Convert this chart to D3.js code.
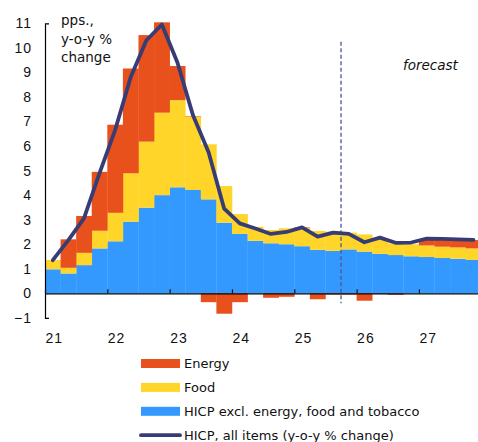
<!DOCTYPE html>
<html>
<head>
<meta charset="utf-8">
<script src="https://cdn.jsdelivr.net/npm/d3@7"></script>
<style>
  body { margin: 0; background: #fff; }
  svg { display: block; font-family: "DejaVu Sans", sans-serif; }
</style>
</head>
<body>
<div id="chart1"></div>
<script>
"use strict";

// == DEFINE DATA ==
var quarters = [
  "21Q1","21Q2","21Q3","21Q4","22Q1","22Q2","22Q3","22Q4",
  "23Q1","23Q2","23Q3","23Q4","24Q1","24Q2","24Q3","24Q4",
  "25Q1","25Q2","25Q3","25Q4","26Q1","26Q2","26Q3","26Q4",
  "27Q1","27Q2","27Q3","27Q4"
];
var core = [0.98, 0.81, 1.15, 1.83, 2.12, 2.92, 3.49, 4.00, 4.32, 4.21, 3.83, 2.88, 2.42, 2.14,
            2.04, 2.00, 1.92, 1.77, 1.73, 1.79, 1.70, 1.61, 1.56, 1.51, 1.48, 1.44, 1.41, 1.36];
var food = [0.38, 0.23, 0.50, 0.72, 1.16, 1.97, 2.69, 3.36, 3.55, 2.99, 2.24, 1.49, 0.81, 0.57,
            0.54, 0.65, 0.75, 0.77, 0.78, 0.68, 0.70, 0.64, 0.48, 0.49, 0.47, 0.46, 0.46, 0.47];
var energy = [0.00, 1.16, 1.50, 2.40, 3.59, 4.27, 4.34, 3.68, 1.39, 0.02, -0.36, -0.83, -0.36, 0.00,
              -0.18, -0.14, 0.02, -0.24, -0.05, -0.05, -0.30, -0.03, -0.06, 0.00, 0.25, 0.28, 0.28, 0.34];
var hicp = [1.35, 2.17, 3.05, 4.90, 6.65, 8.80, 10.30, 10.95, 9.40, 7.25, 5.75, 3.45, 2.85, 2.64,
            2.42, 2.50, 2.69, 2.31, 2.47, 2.42, 2.08, 2.27, 2.06, 2.07, 2.23, 2.22, 2.20, 2.18];
var years = [2021, 2022, 2023, 2024, 2025, 2026, 2027];
var yTicks = [-1, 0, 1, 2, 3, 4, 5, 6, 7, 8, 9, 10, 11];
var keys = ["core", "food", "energy"];
var colors = { core: "#3399ff", food: "#ffd52a", energy: "#e8511c" };
var lineColor = "#373d74";

// == BOILERPLATE ==
var width = 478, height = 442;
var left = 45, qw = 15.58;

var svg = d3.select("#chart1")
  .append("svg")
  .attr("width", width)
  .attr("height", height);

var x = d3.scaleBand()
  .domain(quarters)
  .range([left, left + quarters.length * qw])
  .padding(0);

var xYear = d3.scaleLinear()
  .domain([2021, 2028])
  .range([left, left + quarters.length * qw]);

var y = d3.scaleLinear()
  .domain([-1, 11])
  .range([317.9, 23.3]);

var rows = quarters.map(function (q, i) {
  return { q: q, core: core[i], food: food[i], energy: energy[i] };
});

var series = d3.stack()
  .keys(keys)
  .offset(d3.stackOffsetDiverging)(rows);

// == BARS ==
svg.append("g")
  .selectAll("g")
  .data(series)
  .enter()
  .append("g")
  .attr("fill", function (s) { return colors[s.key]; })
  .selectAll("rect")
  .data(function (s) { return s; })
  .enter()
  .append("rect")
  .attr("x", function (d) { return x(d.data.q); })
  .attr("width", x.bandwidth() + 0.3)
  .attr("y", function (d) { return y(Math.max(d[0], d[1])); })
  .attr("height", function (d) { return Math.abs(y(d[0]) - y(d[1])); });

// == AXES ==
var yAxis = d3.axisLeft(y)
  .tickValues(yTicks)
  .tickSizeInner(0)
  .tickSizeOuter(-4)
  .tickPadding(13);

svg.append("g")
  .attr("transform", "translate(" + left + ",0)")
  .call(yAxis)
  .call(function (g) {
    g.select(".domain").attr("stroke", "#000").attr("stroke-width", 1.2);
    g.selectAll("text")
      .attr("font-size", 14)
      .attr("letter-spacing", 1)
      .attr("fill", "#111");
  });

var xAxis = d3.axisBottom(xYear)
  .tickValues(years)
  .tickSizeInner(-4)
  .tickSizeOuter(0)
  .tickPadding(40)
  .tickFormat(function (d) { return String(d).slice(2); });

svg.append("g")
  .attr("transform", "translate(0," + y(0) + ")")
  .call(xAxis)
  .call(function (g) {
    g.select(".domain").attr("stroke", "#000").attr("stroke-width", 1.2);
    g.selectAll(".tick line").attr("stroke", "#111").attr("stroke-width", 1.2);
    g.selectAll("text")
      .attr("text-anchor", "start")
      .attr("font-size", 14)
      .attr("letter-spacing", 1)
      .attr("fill", "#111");
  });

// == FORECAST MARKER ==
svg.append("line")
  .attr("x1", x("25Q4"))
  .attr("x2", x("25Q4"))
  .attr("y1", y(10.25))
  .attr("y2", y(-0.4))
  .attr("stroke", "#4b5594")
  .attr("stroke-width", 1.3)
  .attr("stroke-dasharray", "4,2.5");

svg.append("text")
  .attr("x", 403)
  .attr("y", 70)
  .attr("font-size", 13.5)
  .attr("font-style", "italic")
  .attr("fill", "#111")
  .text("forecast");

// == HEADLINE LINE ==
var line = d3.line()
  .x(function (d, i) { return x(quarters[i]) + x.bandwidth() / 2; })
  .y(function (d) { return y(d); });

svg.append("path")
  .datum(hicp)
  .attr("d", line)
  .attr("fill", "none")
  .attr("stroke", lineColor)
  .attr("stroke-width", 3.8)
  .attr("stroke-linejoin", "round")
  .attr("stroke-linecap", "round");

// == UNIT LABEL ==
svg.append("text")
  .attr("font-size", 13.5)
  .attr("fill", "#111")
  .selectAll("tspan")
  .data(["pps.,", "y-o-y %", "change"])
  .enter()
  .append("tspan")
  .attr("x", 61)
  .attr("y", function (d, i) { return 25 + i * 18.5; })
  .text(function (d) { return d; });

// == LEGEND ==
var legendItems = [
  { label: "Energy", key: "energy" },
  { label: "Food", key: "food" },
  { label: "HICP excl. energy, food and tobacco", key: "core" },
  { label: "HICP, all items (y-o-y % change)", key: "line" }
];

var legend = svg.append("g")
  .selectAll("g")
  .data(legendItems)
  .enter()
  .append("g")
  .attr("transform", function (d, i) { return "translate(0," + (363.5 + i * 23.9) + ")"; });

legend.filter(function (d) { return d.key !== "line"; })
  .append("rect")
  .attr("x", 141)
  .attr("y", -4.5)
  .attr("width", 39)
  .attr("height", 9)
  .attr("fill", function (d) { return colors[d.key]; });

legend.filter(function (d) { return d.key === "line"; })
  .append("line")
  .attr("x1", 141)
  .attr("x2", 180)
  .attr("stroke", lineColor)
  .attr("stroke-width", 3.8)
  .attr("stroke-linecap", "round");

legend.append("text")
  .attr("x", 184)
  .attr("y", 4.8)
  .attr("font-size", 13)
  .attr("fill", "#111")
  .text(function (d) { return d.label; });
</script>
</body>
</html>
